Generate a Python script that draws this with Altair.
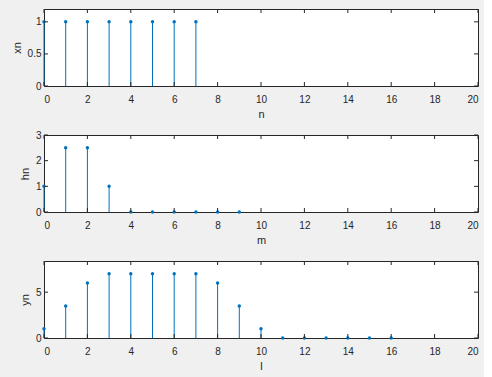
import altair as alt
import pandas as pd

# ---- data ----
n = [0, 1, 2, 3, 4, 5, 6, 7]
xn = [1, 1, 1, 1, 1, 1, 1, 1]
m = [0, 1, 2, 3, 4, 5, 6, 7, 8, 9]
hn = [1, 2.5, 2.5, 1, 0, 0, 0, 0, 0, 0]
l = [0, 1, 2, 3, 4, 5, 6, 7, 8, 9, 10, 11, 12, 13, 14, 15, 16]
yn = [1, 3.5, 6, 7, 7, 7, 7, 7, 6, 3.5, 1, 0, 0, 0, 0, 0, 0]

x_ticks = [0, 2, 4, 6, 8, 10, 12, 14, 16, 18, 20]
xn_ticks = [0, 0.5, 1]
hn_ticks = [0, 1, 2, 3]
yn_ticks = [0, 5]
xn_max = 1.2
hn_max = 3
yn_max = 8.4

W, H = 434, 77
TICK = 4
BLUE = "#0072BD"
AX = "#262626"
FONT = "Liberation Sans"


def panel(xs, ys, xname, yname, ymax, yticks):
    df = pd.DataFrame({"k": xs, "v": ys})
    xscale = alt.Scale(domain=[0, 20], nice=False, zero=False)
    yscale = alt.Scale(domain=[0, ymax], nice=False, zero=False)
    xaxis = alt.Axis(title=xname, values=x_ticks, ticks=False, domain=False,
                     grid=False, labelPadding=8, titlePadding=4, format="~g")
    yaxis = alt.Axis(title=yname, values=yticks, ticks=False, domain=False,
                     grid=False, labelPadding=3, titlePadding=5, format="~g")
    base = alt.Chart(df)
    stems = base.mark_rule(color=BLUE, strokeWidth=1).encode(
        x=alt.X("k:Q", scale=xscale, axis=xaxis),
        y=alt.Y("v:Q", scale=yscale, axis=yaxis),
        y2=alt.datum(0),
    )
    dots = base.mark_circle(color=BLUE, size=12, opacity=1).encode(
        x=alt.X("k:Q", scale=xscale, axis=xaxis),
        y=alt.Y("v:Q", scale=yscale, axis=yaxis),
    )
    tx = alt.Chart(pd.DataFrame({"t": x_ticks}))
    top_t = tx.mark_rule(color=AX, strokeWidth=1).encode(
        x=alt.X("t:Q", scale=xscale, axis=xaxis), y=alt.value(0), y2=alt.value(TICK))
    bot_t = tx.mark_rule(color=AX, strokeWidth=1).encode(
        x=alt.X("t:Q", scale=xscale, axis=xaxis), y=alt.value(H), y2=alt.value(H - TICK))
    ty = alt.Chart(pd.DataFrame({"t": yticks}))
    left_t = ty.mark_rule(color=AX, strokeWidth=1).encode(
        y=alt.Y("t:Q", scale=yscale, axis=yaxis), x=alt.value(0), x2=alt.value(TICK))
    right_t = ty.mark_rule(color=AX, strokeWidth=1).encode(
        y=alt.Y("t:Q", scale=yscale, axis=yaxis), x=alt.value(W), x2=alt.value(W - TICK))
    return alt.layer(stems, dots, top_t, bot_t, left_t, right_t).properties(width=W, height=H)


chart = alt.vconcat(
    panel(n, xn, "n", "xn", xn_max, xn_ticks),
    panel(m, hn, "m", "hn", hn_max, hn_ticks),
    panel(l, yn, "l", "yn", yn_max, yn_ticks),
    spacing=49,
    bounds="flush",
).properties(
    background="#f0f0f0",
    padding={"left": 10, "top": 8, "right": 5, "bottom": 5},
).configure_view(
    stroke=AX, strokeWidth=1, fill="white"
).configure_axis(
    labelFont=FONT, labelFontSize=10, labelColor=AX,
    titleFont=FONT, titleFontSize=11, titleColor=AX, titleFontWeight="normal",
)

chart.save("out.html", embed_options={"renderer": "svg", "actions": False})
